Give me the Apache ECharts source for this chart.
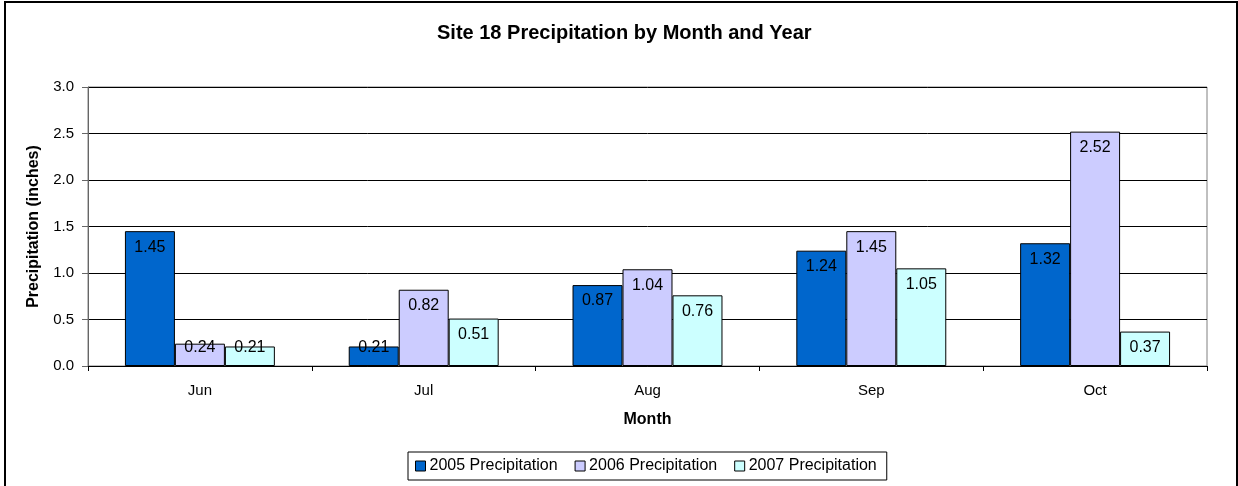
<!DOCTYPE html>
<html>
<head>
<meta charset="utf-8">
<script src="https://cdn.jsdelivr.net/npm/echarts@6/dist/echarts.min.js"></script>
<style>
html,body{margin:0;padding:0;background:#fff;}
#chart{width:1238px;height:486px;}
</style>
</head>
<body>
<div id="chart"></div>
<script>
const categories = ['Jun', 'Jul', 'Aug', 'Sep', 'Oct'];
const precip2005 = [1.45, 0.21, 0.87, 1.24, 1.32];
const precip2006 = [0.24, 0.82, 1.04, 1.45, 2.52];
const precip2007 = [0.21, 0.51, 0.76, 1.05, 0.37];
const seriesNames = ['2005 Precipitation', '2006 Precipitation', '2007 Precipitation'];
const seriesColors = ['#0066CC', '#CCCCFF', '#CCFFFF'];

const FONT = 'Arial, "Liberation Sans", sans-serif';
const chart = echarts.init(document.getElementById('chart'), null, {renderer: 'canvas'});

function makeData(vals) {
  return vals.map(v => {
    const small = v < 0.38;
    return {
      value: v,
      label: small
        ? {position: 'insideBottom', distance: 10}
        : {position: 'insideTop', distance: 8}
    };
  });
}

const seriesValues = [precip2005, precip2006, precip2007];

chart.setOption({
  animation: false,
  backgroundColor: '#fff',
  textStyle: {fontFamily: FONT, color: '#000'},
  title: {
    text: 'Site 18 Precipitation by Month and Year',
    left: 432,
    top: 18,
    textStyle: {fontFamily: FONT, fontSize: 20, fontWeight: 'bold', color: '#000'}
  },
  graphic: [{
    type: 'rect',
    shape: {x: 5, y: 2, width: 1232, height: 500},
    style: {fill: 'none', stroke: '#000', lineWidth: 2},
    silent: true
  }],
  legend: {
    left: 408,
    top: 452,
    orient: 'horizontal',
    itemWidth: 10,
    itemHeight: 10,
    itemGap: 17,
    padding: [6, 10, 6, 7],
    borderColor: '#000',
    borderWidth: 1,
    icon: 'rect',
    textStyle: {fontFamily: FONT, fontSize: 16, color: '#000', padding: [0, 0, 0, -1]},
    data: seriesNames.map(n => ({name: n, itemStyle: {borderColor: '#000', borderWidth: 1}}))
  },
  grid: {
    left: 88,
    right: 31,
    top: 87,
    bottom: 120,
    show: true,
    backgroundColor: '#fff',
    borderColor: '#808080',
    borderWidth: 1
  },
  xAxis: {
    type: 'category',
    data: categories,
    name: 'Month',
    nameLocation: 'middle',
    nameGap: 46,
    nameTextStyle: {fontFamily: FONT, fontSize: 16, fontWeight: 'bold', color: '#000'},
    axisLine: {show: true, lineStyle: {color: '#000', width: 1}},
    axisTick: {show: true, length: 5, alignWithLabel: false, lineStyle: {color: '#000'}},
    axisLabel: {fontFamily: FONT, fontSize: 15, color: '#000', margin: 17},
    splitLine: {show: false}
  },
  yAxis: {
    type: 'value',
    min: 0,
    max: 3,
    interval: 0.5,
    name: 'Precipitation (inches)',
    nameLocation: 'middle',
    nameGap: 46,
    nameTextStyle: {fontFamily: FONT, fontSize: 16, fontWeight: 'bold', color: '#000'},
    axisLine: {show: true, lineStyle: {color: '#666', width: 1}},
    axisTick: {show: true, length: 6, lineStyle: {color: '#666'}},
    axisLabel: {fontFamily: FONT, fontSize: 15, color: '#000', margin: 14,
      formatter: v => v.toFixed(1)},
    splitLine: {show: true, lineStyle: {color: '#000', width: 1}}
  },
  series: seriesNames.map((name, i) => ({
    name: name,
    type: 'bar',
    data: makeData(seriesValues[i]),
    barGap: '0%',
    barCategoryGap: '33%',
    itemStyle: {color: seriesColors[i], borderColor: '#000', borderWidth: 1},
    label: {
      show: true,
      fontFamily: FONT,
      fontSize: 16,
      color: '#000',
      formatter: p => p.value.toFixed(2)
    }
  }))
});
</script>
</body>
</html>
